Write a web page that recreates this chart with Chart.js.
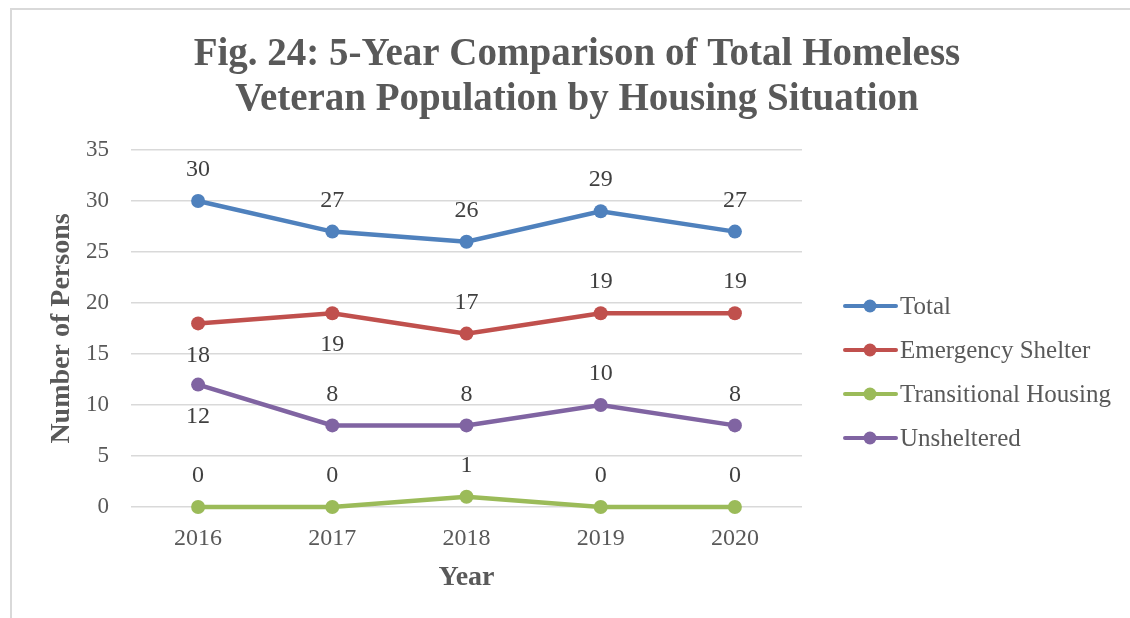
<!DOCTYPE html>
<html>
<head>
<meta charset="utf-8">
<script src="https://cdn.jsdelivr.net/npm/chart.js@4.4.1/dist/chart.umd.min.js"></script>
<style>
    html, body { margin: 0; padding: 0; background: #fff; overflow: hidden; }
</style>
</head>
<body>
<canvas id="vetChart" width="1130" height="618"></canvas>
<script>
// Chart data
const years = ['2016', '2017', '2018', '2019', '2020'];
const totalValues = [30, 27, 26, 29, 27];
const emergencyValues = [18, 19, 17, 19, 19];
const transitionalValues = [0, 0, 1, 0, 0];
const unshelteredValues = [12, 8, 8, 10, 8];
const seriesNames = ['Total', 'Emergency Shelter', 'Transitional Housing', 'Unsheltered'];
const seriesColors = ['#4f81bd', '#c0504d', '#9bbb59', '#8064a2'];
const titleLines = ['Fig. 24: 5-Year Comparison of Total Homeless', 'Veteran Population by Housing Situation'];

// Which side of its point each value label sits on
const labelSide = [
    ['above', 'above', 'above', 'above', 'above'],
    ['below', 'below', 'above', 'above', 'above'],
    ['above', 'above', 'above', 'above', 'above'],
    ['below', 'above', 'above', 'above', 'above']
];

const serif = "'Liberation Serif', 'Times New Roman', serif";
Chart.defaults.font.family = serif;

// Background, frame, title and legend
const decorPlugin = {
    id: 'decor',
    beforeDraw(chart) {
        const ctx = chart.ctx;
        ctx.save();
        ctx.fillStyle = '#ffffff';
        ctx.fillRect(0, 0, chart.width, chart.height);
        ctx.strokeStyle = '#d9d9d9';
        ctx.lineWidth = 2;
        ctx.strokeRect(11, 9, 1300, 800);
        ctx.restore();
    },
    afterDraw(chart) {
        const ctx = chart.ctx;
        ctx.save();
        // title
        ctx.fillStyle = '#595959';
        ctx.font = 'bold 39px ' + serif;
        ctx.textAlign = 'center';
        ctx.textBaseline = 'alphabetic';
        titleLines.forEach((line, i) => ctx.fillText(line, 577, 65 + i * 45));

        // legend
        ctx.font = '25px ' + serif;
        ctx.textAlign = 'left';
        ctx.textBaseline = 'middle';
        chart.data.datasets.forEach((ds, i) => {
            const y = 306 + i * 44;
            ctx.strokeStyle = ds.borderColor;
            ctx.lineWidth = 4;
            ctx.lineCap = 'round';
            ctx.beginPath();
            ctx.moveTo(845, y);
            ctx.lineTo(896, y);
            ctx.stroke();
            ctx.fillStyle = ds.borderColor;
            ctx.beginPath();
            ctx.arc(870, y, 6.5, 0, Math.PI * 2);
            ctx.fill();
            ctx.fillStyle = '#595959';
            ctx.fillText(ds.label, 900, y + 1);
        });
        ctx.restore();
    }
};

// Value labels next to each point
const valueLabelPlugin = {
    id: 'valueLabels',
    afterDatasetsDraw(chart) {
        const ctx = chart.ctx;
        ctx.save();
        ctx.font = '24px ' + serif;
        ctx.fillStyle = '#404040';
        ctx.textAlign = 'center';
        ctx.textBaseline = 'middle';
        chart.data.datasets.forEach((ds, i) => {
            const meta = chart.getDatasetMeta(i);
            meta.data.forEach((pt, j) => {
                const dy = labelSide[i][j] === 'above' ? -31 : 32;
                ctx.fillText(String(ds.data[j]), pt.x, pt.y + dy);
            });
        });
        ctx.restore();
    }
};

const allValues = [totalValues, emergencyValues, transitionalValues, unshelteredValues];

new Chart(document.getElementById('vetChart').getContext('2d'), {
    type: 'line',
    data: {
        labels: years,
        datasets: allValues.map((vals, i) => ({
            label: seriesNames[i],
            data: vals,
            borderColor: seriesColors[i],
            backgroundColor: seriesColors[i],
            borderWidth: 4.5,
            pointRadius: 7,
            pointHoverRadius: 7,
            pointBorderWidth: 0,
            tension: 0,
            fill: false,
            clip: false
        }))
    },
    options: {
        responsive: false,
        devicePixelRatio: 1,
        animation: false,
        events: [],
        layout: { padding: { top: 150, left: 34, right: 328, bottom: 13 } },
        plugins: {
            legend: { display: false },
            title: { display: false },
            tooltip: { enabled: false }
        },
        scales: {
            x: {
                offset: true,
                grid: { display: false, drawTicks: false },
                border: { display: false },
                ticks: { color: '#595959', font: { size: 24 }, padding: 17 },
                title: {
                    display: true,
                    text: 'Year',
                    color: '#595959',
                    font: { size: 28, weight: 'bold' },
                    padding: { top: 0, bottom: 10 }
                },
                afterFit(scale) { scale.height = 98; }
            },
            y: {
                min: 0,
                max: 35,
                ticks: { stepSize: 5, color: '#595959', font: { size: 23 }, padding: 22 },
                grid: { color: '#d9d9d9', lineWidth: 1.5, drawTicks: false },
                border: { display: false },
                title: {
                    display: true,
                    text: 'Number of Persons',
                    color: '#595959',
                    font: { size: 28, weight: 'bold' },
                    padding: { top: 11, bottom: 0 }
                },
                afterFit(scale) { scale.width = 97; }
            }
        }
    },
    plugins: [decorPlugin, valueLabelPlugin]
});
</script>
</body>
</html>
